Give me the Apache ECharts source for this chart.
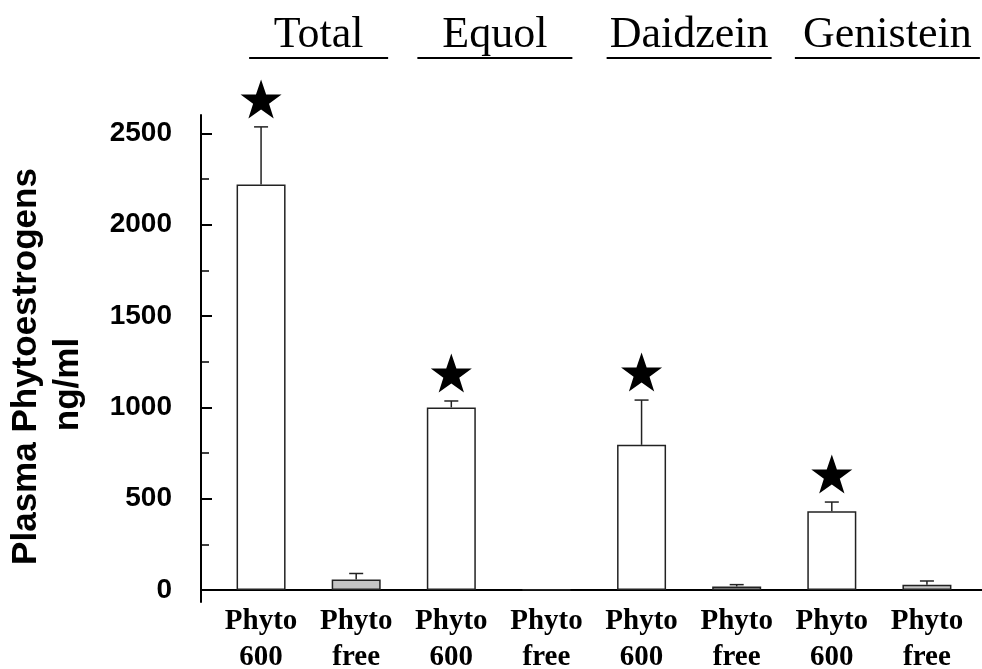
<!DOCTYPE html>
<html>
<head>
<meta charset="utf-8">
<script src="https://cdn.jsdelivr.net/npm/echarts@6/dist/echarts.min.js"></script>
<style>
html,body{margin:0;padding:0;background:#fff;}
#chart{width:982px;height:669px;}
</style>
</head>
<body>
<div id="chart"></div>
<script>
// ---- data ----
var categories = ['Phyto\n600','Phyto\nfree','Phyto\n600','Phyto\nfree','Phyto\n600','Phyto\nfree','Phyto\n600','Phyto\nfree'];
var groups = ['Total','Equol','Daidzein','Genistein'];
var means = [2220, 58, 1000, 5, 795, 20, 432, 30];
var errors = [315, 33, 35, 0, 245, 10, 50, 20];
var significant = [true, false, true, false, true, false, true, false];
var majorTicks = [0, 500, 1000, 1500, 2000, 2500];
var minorTicks = [250, 750, 1250, 1750, 2250];

var starPath = 'path://M50,0 L61.8,35.1 L97.6,35.1 L68.5,56.7 L79.4,91 L50,70 L20.6,91 L31.5,56.7 L2.4,35.1 L38.2,35.1 Z';

var barData = means.map(function (v, i) {
  return {
    value: v,
    itemStyle: { color: (i % 2 === 0) ? '#ffffff' : '#c4c4c4' }
  };
});
var errData = means.map(function (v, i) { return [i, v, v + errors[i]]; });
var starData = [];
means.forEach(function (v, i) { if (significant[i]) starData.push([i, v + errors[i]]); });

var groupPads = [[0, 0, 0, 20], [0, 8, 0, 0], [0, 0, 0, 0], [0, 0, 0, 16]];
var groupData = groups.map(function (g, i) {
  return { value: g, textStyle: { padding: groupPads[i] } };
});

var chart = echarts.init(document.getElementById('chart'), null, { renderer: 'canvas' });
var option = {
  animation: false,
  backgroundColor: '#ffffff',
  grid: [
    { left: 213.5, right: 7.5, top: 115, bottom: 67, outerBoundsMode: 'none', containLabel: false },
    { left: 201, right: 0, top: 115, bottom: 79, outerBoundsMode: 'none', containLabel: false }
  ],
  xAxis: [
    {
      type: 'category', gridIndex: 0, data: categories,
      axisLine: { show: false, onZero: true },
      axisTick: { show: false },
      axisLabel: {
        interval: 0, margin: 2, color: '#000',
        fontFamily: 'Liberation Serif', fontWeight: 'bold', fontSize: 29, lineHeight: 36
      }
    },
    {
      type: 'value', gridIndex: 1, min: 0, max: 1,
      axisLine: { show: true, lineStyle: { color: '#000', width: 2 } },
      axisTick: { show: false }, axisLabel: { show: false }, splitLine: { show: false }
    },
    {
      type: 'category', gridIndex: 0, data: groupData, position: 'top',
      axisLine: { show: false }, axisTick: { show: false }, splitLine: { show: false },
      axisLabel: {
        interval: 0, margin: 55,
        formatter: function (v, i) { return '{t|' + v + '}\n{u' + i + '| }'; },
        rich: {
          t: { fontFamily: 'Liberation Serif', fontSize: 44, color: '#000', lineHeight: 42 },
          u0: { width: 139, height: 2, backgroundColor: '#000', lineHeight: 4 },
          u1: { width: 155, height: 2, backgroundColor: '#000', lineHeight: 4 },
          u2: { width: 165, height: 2, backgroundColor: '#000', lineHeight: 4 },
          u3: { width: 185, height: 2, backgroundColor: '#000', lineHeight: 4 }
        }
      }
    }
  ],
  yAxis: [
    {
      type: 'value', gridIndex: 0, min: -65, max: 2600, offset: 12.5, position: 'left',
      name: '{a|Plasma Phytoestrogens}\n{b|ng/ml}', nameLocation: 'middle', nameRotate: 90, nameGap: 112,
      nameTextStyle: {
        fontFamily: 'Liberation Sans', fontWeight: 'bold', fontSize: 35, lineHeight: 42, color: '#000', align: 'center',
        padding: [0, 16, 0, 0],
        rich: {
          a: { fontFamily: 'Liberation Sans', fontWeight: 'bold', fontSize: 35, lineHeight: 42, color: '#000' },
          b: { fontFamily: 'Liberation Sans', fontWeight: 'bold', fontSize: 35, lineHeight: 42, color: '#000', padding: [0, 36, 0, 0] }
        }
      },
      axisLine: { show: true, onZero: false, lineStyle: { color: '#000', width: 2 } },
      axisTick: { show: true, inside: true, length: 11, customValues: majorTicks, lineStyle: { color: '#000', width: 2 } },
      axisLabel: {
        customValues: majorTicks, margin: 29, color: '#000',
        fontFamily: 'Liberation Sans', fontWeight: 'bold', fontSize: 28,
        formatter: function (v) { return String(v); }
      },
      splitLine: { show: false }
    },
    {
      type: 'value', gridIndex: 0, min: -65, max: 2600, offset: 12.5, position: 'left',
      axisLine: { show: false, onZero: false },
      axisTick: { show: true, inside: true, length: 8, customValues: minorTicks, lineStyle: { color: '#000', width: 1.5 } },
      axisLabel: { show: false, customValues: minorTicks },
      splitLine: { show: false }
    },
    { type: 'value', gridIndex: 1, min: 0, max: 1, show: false }
  ],
  series: [
    {
      type: 'bar', xAxisIndex: 0, yAxisIndex: 0, data: barData, barWidth: 49,
      itemStyle: { borderColor: '#222', borderWidth: 1.5 }
    },
    {
      type: 'custom', xAxisIndex: 0, yAxisIndex: 0, data: errData, z: 5,
      renderItem: function (params, api) {
        var i = api.value(0);
        var lo = api.coord([i, api.value(1)]);
        var hi = api.coord([i, api.value(2)]);
        if (hi[1] >= lo[1] - 0.5) return null;
        var cap = 14;
        var st = { stroke: '#222', lineWidth: 1.5 };
        return {
          type: 'group',
          children: [
            { type: 'line', shape: { x1: lo[0], y1: lo[1], x2: hi[0], y2: hi[1] }, style: st },
            { type: 'line', shape: { x1: hi[0] - cap / 2, y1: hi[1], x2: hi[0] + cap / 2, y2: hi[1] }, style: st }
          ]
        };
      }
    },
    {
      type: 'scatter', xAxisIndex: 0, yAxisIndex: 0, data: starData,
      symbol: starPath, symbolSize: [41, 39], symbolOffset: [0, -28],
      itemStyle: { color: '#000', opacity: 1 }, z: 6
    }
  ]
};
chart.setOption(option);
</script>
</body>
</html>
